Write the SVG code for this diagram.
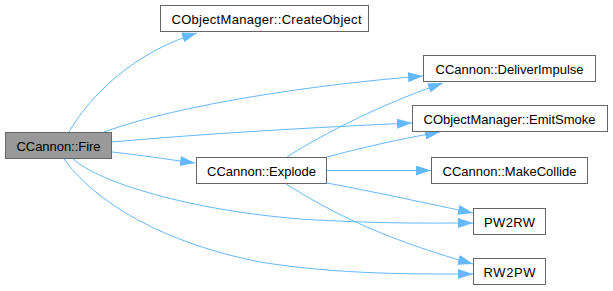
<svg xmlns="http://www.w3.org/2000/svg" width="613" height="291" viewBox="0 0 613 291">
  <style>
    .node rect { fill: #ffffff; stroke: #666666; stroke-width: 1; }
    #fire rect { fill: #999999; }
    .node text { font-family: "Liberation Sans", Arial, sans-serif; font-size: 13px; fill: #000000; text-anchor: middle; }
    .edge { fill: none; stroke: #63b8ff; stroke-width: 1; marker-end: url(#arrow); }
  </style>
  <defs>
    <marker id="arrow" markerUnits="userSpaceOnUse" markerWidth="16" markerHeight="11" refX="15" refY="5" orient="auto">
      <path d="M0,0 L15,5 L0,10 z" fill="#63b8ff"/>
    </marker>
  </defs>
  <rect width="613" height="291" fill="#ffffff"/>

  <g id="edges">
    <path class="edge" d="M69,132 C90,95 135,52 197,33"/>
    <path class="edge" d="M104,132 C180,104 320,84 423,76"/>
    <path class="edge" d="M112,142 C200,134 320,127 412,123"/>
    <path class="edge" d="M112,152 C140,155 165,159 195,163"/>
    <path class="edge" d="M73,159 C100,183 190,210 300,219 C380,224 430,223 473,223"/>
    <path class="edge" d="M64,159 C90,195 150,240 260,262 C340,275 420,274 473,274"/>
    <path class="edge" d="M287,157 C310,142 370,108 443,83"/>
    <path class="edge" d="M327,157 C360,148 400,139 440,132"/>
    <path class="edge" d="M327,170.5 L431,170.5"/>
    <path class="edge" d="M327,183 C380,193 430,204 473,213"/>
    <path class="edge" d="M286,184 C320,205 370,235 473,264"/>
  </g>

  <g id="fire" class="node">
    <rect x="5.5" y="132.5" width="106" height="26"/>
    <text x="58.5" y="150.5" textLength="84" lengthAdjust="spacing">CCannon::Fire</text>
  </g>
  <g id="createobject" class="node">
    <rect x="160.5" y="5.5" width="208" height="26"/>
    <text x="266.5" y="23.5" textLength="190" lengthAdjust="spacing">CObjectManager::CreateObject</text>
  </g>
  <g id="deliverimpulse" class="node">
    <rect x="423.5" y="55.5" width="172" height="26"/>
    <text x="509.5" y="73.5" textLength="148" lengthAdjust="spacing">CCannon::DeliverImpulse</text>
  </g>
  <g id="emitsmoke" class="node">
    <rect x="412.5" y="105.5" width="195" height="26"/>
    <text x="509.5" y="123.5" textLength="172" lengthAdjust="spacing">CObjectManager::EmitSmoke</text>
  </g>
  <g id="explode" class="node">
    <rect x="196.5" y="157.5" width="130" height="26"/>
    <text x="261.5" y="175.5" textLength="109" lengthAdjust="spacing">CCannon::Explode</text>
  </g>
  <g id="makecollide" class="node">
    <rect x="431.5" y="157.5" width="156" height="26"/>
    <text x="509.5" y="175.5" textLength="134" lengthAdjust="spacing">CCannon::MakeCollide</text>
  </g>
  <g id="pw2rw" class="node">
    <rect x="473.5" y="208.5" width="72" height="26"/>
    <text x="509.5" y="226.5" textLength="51" lengthAdjust="spacing">PW2RW</text>
  </g>
  <g id="rw2pw" class="node">
    <rect x="473.5" y="258.5" width="72" height="26"/>
    <text x="509.5" y="276.5" textLength="52" lengthAdjust="spacing">RW2PW</text>
  </g>
</svg>
